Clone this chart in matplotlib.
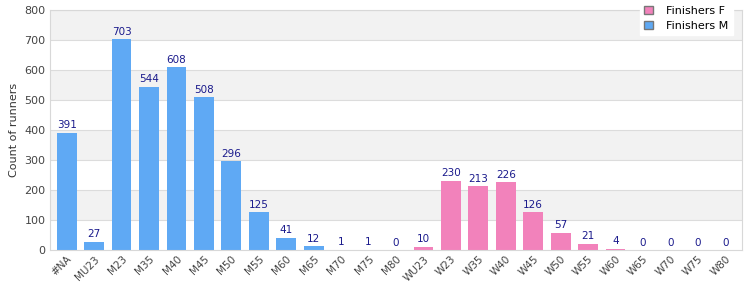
import matplotlib.pyplot as plt
from matplotlib.patches import Patch

# categories and counts
categories = ["#NA", "MU23", "M23", "M35", "M40", "M45", "M50", "M55", "M60", "M65",
              "M70", "M75", "M80", "WU23", "W23", "W35", "W40", "W45", "W50", "W55",
              "W60", "W65", "W70", "W75", "W80"]
counts = [391, 27, 703, 544, 608, 508, 296, 125, 41, 12,
          1, 1, 0, 10, 230, 213, 226, 126, 57, 21,
          4, 0, 0, 0, 0]
yticks = [0, 100, 200, 300, 400, 500, 600, 700, 800]

blue = "#5fa9f4"
pink = "#f282bb"

colors = [pink if c.startswith("W") else blue for c in categories]

fig = plt.figure(figsize=(7.5, 3), dpi=100)
ax = fig.add_axes([0.067, 0.167, 0.922, 0.8])

# alternating background bands
for i in range(len(yticks) - 1):
    if i % 2 == 1:
        ax.axhspan(yticks[i], yticks[i + 1], color="#f2f2f2", zorder=0, lw=0)
    ax.axhline(yticks[i + 1], color="#dcdcdc", lw=0.8, zorder=0.5)

x = range(len(categories))
ax.bar(x, counts, width=0.72, color=colors, zorder=2)

for xi, v in zip(x, counts):
    ax.text(xi, v + 8, str(v), ha="center", va="bottom", fontsize=7.5, color="#1a1a8c", zorder=3)

ax.set_xlim(-0.6, len(categories) - 0.4)
ax.set_ylim(0, 800)
ax.set_yticks(yticks)
ax.set_xticks(list(x))
ax.set_xticklabels(categories, rotation=45, ha="right", rotation_mode="anchor", fontsize=7.5, color="#444444")
ax.tick_params(axis="y", labelsize=8, colors="#444444", length=0)
ax.tick_params(axis="x", length=0, pad=3)
ax.set_ylabel("Count of runners", fontsize=8, color="#333333")

for s in ax.spines.values():
    s.set_color("#d8d8d8")

handles = [Patch(facecolor=pink, edgecolor="#777777", label="Finishers F"),
           Patch(facecolor=blue, edgecolor="#777777", label="Finishers M")]
fig.legend(handles=handles, loc="upper right", bbox_to_anchor=(0.985, 1.015), fontsize=8,
           frameon=True, fancybox=False, edgecolor="white", framealpha=1,
           handlelength=0.8, handleheight=0.8, handletextpad=1.2, labelspacing=0.45, borderpad=0.4)

fig.savefig("out.png", dpi=100)
